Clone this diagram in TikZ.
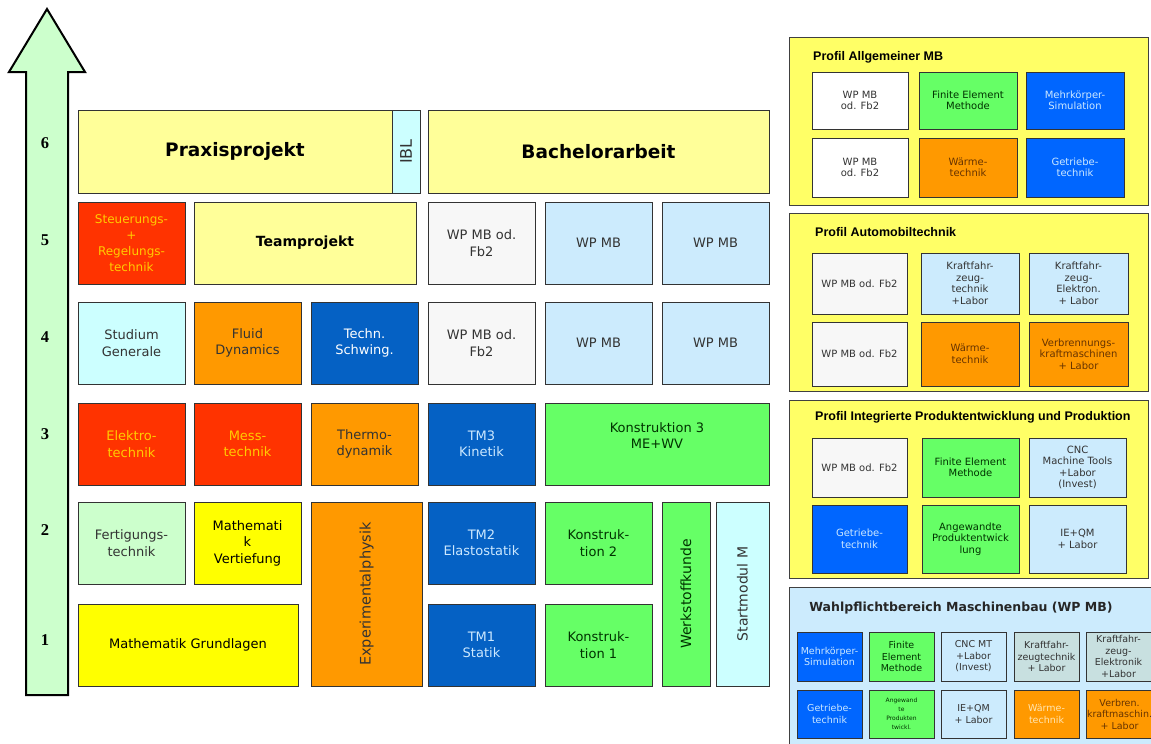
\documentclass[tikz,border=0pt]{standalone}
\usepackage{fontspec}
\usepackage[table]{xcolor}
\usepackage{tikz}
\setmainfont{DejaVu Sans}
\newfontfamily\arialfont{Liberation Sans}
\newfontfamily\seriffont{Liberation Serif}

\definecolor{mint}{HTML}{CCFFCC}
\definecolor{hellgelb}{HTML}{FFFF99}
\definecolor{hellcyan}{HTML}{CCFFFF}
\definecolor{rot}{HTML}{FF3300}
\definecolor{gold}{HTML}{FFCC00}
\definecolor{wpgrau}{HTML}{F7F7F7}
\definecolor{wpblau}{HTML}{CCEBFD}
\definecolor{orangeM}{HTML}{FF9900}
\definecolor{tmblau}{HTML}{0561C4}
\definecolor{tmtext}{HTML}{CCE8FF}
\definecolor{gruen}{HTML}{66FF66}
\definecolor{gruentext}{HTML}{003300}
\definecolor{gelb}{HTML}{FFFF00}
\definecolor{profgelb}{HTML}{FFFF66}
\definecolor{profblau}{HTML}{0066FF}
\definecolor{braun}{HTML}{663300}
\definecolor{kfzgrau}{HTML}{C8E0E0}
\definecolor{creme}{HTML}{FFE6B3}

\begin{document}
\begin{tikzpicture}[x=1pt, y=-1pt,
    M/.style = {rectangle, draw=black!80, line width=0.9pt,% Modul im Studienplan
                anchor=north west, align=center, inner sep=1pt,
                outer sep=0pt, text=black!80,
                font=\fontsize{13}{16.5}\selectfont},
    V/.style = {M, anchor=center, rotate=90},% senkrecht beschriftet
    K/.style = {M, line width=0.8pt,% Modul im Profil
                font=\fontsize{10}{11.5}\selectfont},
    W/.style = {K, font=\fontsize{9.5}{11.5}\selectfont},% Modul im WP-Bereich
    P/.style = {rectangle, draw=black!75, line width=1pt,
                anchor=north west, outer sep=0pt, fill=profgelb},
    T/.style = {anchor=west, inner sep=0pt,
                font=\arialfont\bfseries\fontsize{12.5}{15}\selectfont},
    S/.style = {inner sep=0pt,
                font=\seriffont\bfseries\fontsize{16.5}{16}\selectfont},
    B/.style 2 args = {minimum width=#1, minimum height=#2},
    zelle/.style = {B={107}{82}},
                        ]
\path[use as bounding box, fill=white] (0,0) rectangle (1151,744);

% Semesterpfeil
\draw[line width=2pt, fill=mint] (26,695) -- (26,72) -- (9,72) -- (47,9)
    -- (85,72) -- (68,72) -- (68,695) -- cycle;
\foreach \s/\y in {1/640,2/530,3/434,4/337,5/240,6/143}% <-- Semester
    \node[S] (sem\s) at (45,\y) {\s};

% 6. Semester
\node[M, fill=hellgelb, text=black, B={314}{83},
      font=\bfseries\fontsize{18.5}{20}\selectfont] (praxis) at (78,110) {Praxisprojekt};
\node[V, fill=hellcyan, B={83}{28}, font=\fontsize{16}{16}\selectfont] (ibl) at (406,151.5) {IBL};
\node[M, fill=hellgelb, text=black, B={341}{83},
      font=\bfseries\fontsize{18.5}{20}\selectfont] (bachelor) at (428,110) {Bachelorarbeit};

% 5. Semester
\node[M, zelle, fill=rot, text=gold, font=\fontsize{12}{16}\selectfont] (steuer) at (78,202)
      {Steuerungs-\\+\\Regelungs-\\technik};
\node[M, fill=hellgelb, text=black, B={222}{82},
      font=\bfseries\fontsize{14}{16}\selectfont] (team) at (194,202) {Teamprojekt};

% WP-Module im 4. und 5. Semester
\foreach \r/\y in {4/302,5/202}{
    \node[M, zelle, fill=wpgrau] (wpfb\r) at (428,\y) {WP MB od.\\Fb2};
    \node[M, zelle, fill=wpblau] (wpa\r) at (545,\y) {WP MB};
    \node[M, zelle, fill=wpblau] (wpb\r) at (662,\y) {WP MB};
}

% 4. Semester
\node[M, zelle, fill=hellcyan] (studium) at (78,302) {Studium\\Generale};
\node[M, zelle, fill=orangeM] (fluid) at (194,302) {Fluid\\Dynamics};
\node[M, zelle, fill=tmblau, text=white] (schwing) at (311,302) {Techn.\\Schwing.};

% 3. Semester
\node[M, zelle, fill=rot, text=gold] (elektro) at (78,403) {Elektro-\\technik};
\node[M, zelle, fill=rot, text=gold] (mess) at (194,403) {Mess-\\technik};
\node[M, zelle, fill=orangeM] (thermo) at (311,403) {Thermo-\\dynamik};
\node[M, zelle, fill=tmblau, text=tmtext] (tm3) at (428,403) {TM3\\Kinetik};
\node[M, fill=gruen, text=gruentext, B={224}{82}] (kon3) at (545,403) {Konstruktion 3\\ME+WV\\~};

% 2. Semester
\node[M, zelle, fill=mint] (fertigung) at (78,502) {Fertigungs-\\technik};
\node[M, zelle, fill=gelb, text=black] (mathe2) at (194,502) {Mathemati\\k\\Vertiefung};
\node[V, fill=orangeM, B={184}{111}, font=\fontsize{14.5}{16}\selectfont] (physik) at (366.5,594)
      {Experimentalphysik};
\node[M, zelle, fill=tmblau, text=tmtext] (tm2) at (428,502) {TM2\\Elastostatik};
\node[M, zelle, fill=gruen, text=gruentext] (kon2) at (545,502) {Konstruk-\\tion 2};
\node[V, fill=gruen, text=gruentext, B={184}{48}, font=\fontsize{14}{16}\selectfont] (werkstoff)
      at (686,594) {Werkstoffkunde};
\node[V, fill=hellcyan, B={184}{53}, font=\fontsize{14}{16}\selectfont] (start) at (742.5,594)
      {Startmodul M};

% 1. Semester
\node[M, fill=gelb, text=black, B={220}{82}] (mathe1) at (78,604) {Mathematik Grundlagen};
\node[M, zelle, fill=tmblau, text=tmtext] (tm1) at (428,604) {TM1\\Statik};
\node[M, zelle, fill=gruen, text=gruentext] (kon1) at (545,604) {Konstruk-\\tion 1};

% Profil Allgemeiner MB
\node[P, B={359}{168}] (prof1) at (789,37) {};
\node[T] (prof1t) at (813,57) {Profil Allgemeiner MB};
\node[K, B={96}{57}, fill=white] (p1a) at (812,72) {WP MB\\od. Fb2};
\node[K, B={98}{57}, fill=gruen, text=gruentext] (p1b) at (919,72) {Finite Element\\Methode};
\node[K, B={98}{57}, fill=profblau, text=tmtext] (p1c) at (1026,72) {Mehrkörper-\\Simulation};
\node[K, B={96}{59}, fill=white] (p1d) at (812,138) {WP MB\\od. Fb2};
\node[K, B={98}{59}, fill=orangeM, text=braun] (p1e) at (919,138) {Wärme-\\technik};
\node[K, B={98}{59}, fill=profblau, text=tmtext] (p1f) at (1026,138) {Getriebe-\\technik};

% Profil Automobiltechnik
\node[P, B={359}{178}] (prof2) at (789,213) {};
\node[T] (prof2t) at (815,232) {Profil Automobiltechnik};
\node[K, B={95}{61}, fill=wpgrau] (p2a) at (812,253) {WP MB od. Fb2};
\node[K, B={98}{61}, fill=wpblau] (p2b) at (921,253) {Kraftfahr-\\zeug-\\technik\\+Labor};
\node[K, B={99}{61}, fill=wpblau] (p2c) at (1029,253) {Kraftfahr-\\zeug-\\Elektron.\\+ Labor};
\node[K, B={95}{64}, fill=wpgrau] (p2d) at (812,322) {WP MB od. Fb2};
\node[K, B={98}{64}, fill=orangeM, text=braun] (p2e) at (921,322) {Wärme-\\technik};
\node[K, B={99}{64}, fill=orangeM, text=braun] (p2f) at (1029,322)
      {Verbrennungs-\\kraftmaschinen\\+ Labor};

% Profil Integrierte Produktentwicklung und Produktion
\node[P, B={359}{178}] (prof3) at (789,400) {};
\node[T] (prof3t) at (815,417) {Profil Integrierte Produktentwicklung und Produktion};
\node[K, B={95}{59}, fill=wpgrau] (p3a) at (812,438) {WP MB od. Fb2};
\node[K, B={97}{59}, fill=gruen, text=gruentext] (p3b) at (922,438) {Finite Element\\Methode};
\node[K, B={97}{59}, fill=wpblau] (p3c) at (1029,438) {CNC\\Machine Tools\\+Labor\\(Invest)};
\node[K, B={95}{68}, fill=profblau, text=tmtext] (p3d) at (812,505) {Getriebe-\\technik};
\node[K, B={97}{68}, fill=gruen, text=gruentext] (p3e) at (922,505)
      {Angewandte\\Produktentwick\\lung};
\node[K, B={97}{68}, fill=wpblau] (p3f) at (1029,505) {IE+QM\\+ Labor};

% Wahlpflichtbereich
\node[P, fill=wpblau, B={375}{170}] (wahl) at (789,587) {};
\node[inner sep=0pt, text=black!85, font=\bfseries\fontsize{12.5}{15}\selectfont] (wahlt)
      at (961,608) {Wahlpflichtbereich Maschinenbau (WP MB)};
\node[W, B={65}{49}, fill=profblau, text=tmtext] (w1) at (797,632) {Mehrkörper-\\Simulation};
\node[W, B={65}{49}, fill=gruen, text=gruentext] (w2) at (869,632) {Finite\\Element\\Methode};
\node[W, B={65}{49}, fill=wpblau] (w3) at (941,632) {CNC MT\\+Labor\\(Invest)};
\node[W, B={65}{49}, fill=kfzgrau] (w4) at (1014,632) {Kraftfahr-\\zeugtechnik\\+ Labor};
\node[W, B={65}{49}, fill=kfzgrau] (w5) at (1086,632) {Kraftfahr-\\zeug-\\Elektronik\\+Labor};
\node[W, B={65}{48}, fill=profblau, text=tmtext] (w6) at (797,690) {Getriebe-\\technik};
\node[W, B={65}{48}, fill=gruen, text=gruentext, font=\fontsize{6}{9}\selectfont] (w7) at (869,690)
      {Angewand\\te\\Produkten\\twickl.};
\node[W, B={65}{48}, fill=wpblau] (w8) at (941,690) {IE+QM\\+ Labor};
\node[W, B={65}{48}, fill=orangeM, text=creme] (w9) at (1014,690) {Wärme-\\technik};
\node[W, B={65}{48}, fill=orangeM, text=braun] (w10) at (1086,690) {Verbren.\\kraftmaschin.\\+ Labor};
\end{tikzpicture}
\end{document}
